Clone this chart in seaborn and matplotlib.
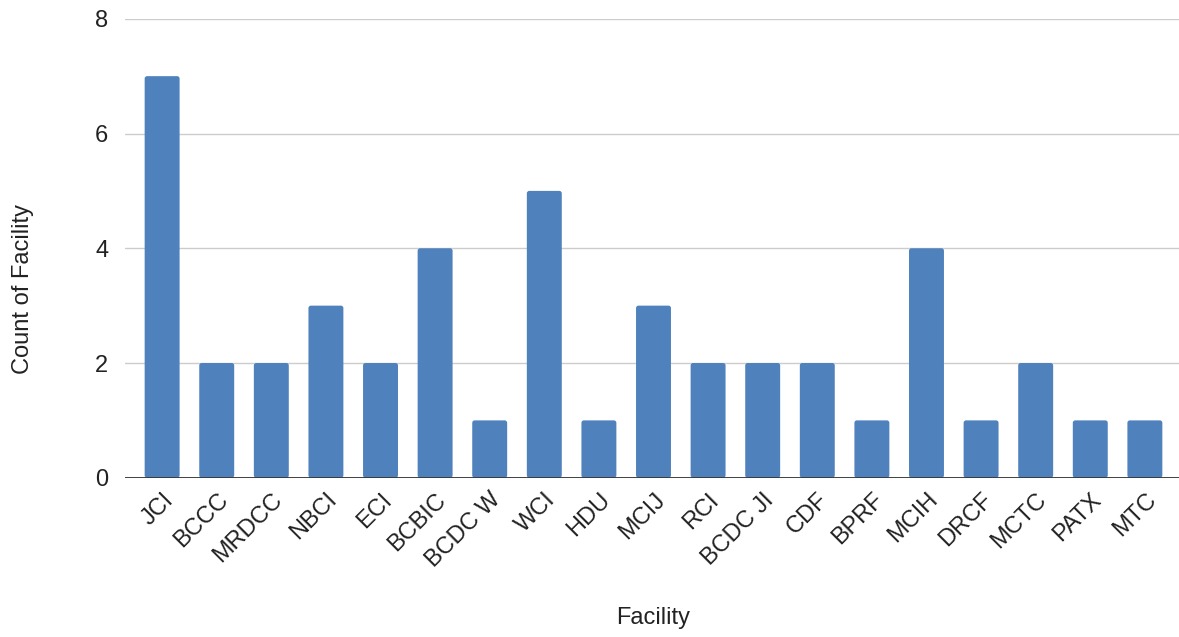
import matplotlib
matplotlib.use("Agg")
import matplotlib.pyplot as plt
from matplotlib.patches import FancyBboxPatch
import seaborn as sns
import pandas as pd

facilities = ["JCI", "BCCC", "MRDCC", "NBCI", "ECI", "BCBIC", "BCDC W", "WCI", "HDU",
              "MCIJ", "RCI", "BCDC JI", "CDF", "BPRF", "MCIH", "DRCF", "MCTC", "PATX", "MTC"]
counts = [7, 2, 2, 3, 2, 4, 1, 5, 1, 3, 2, 2, 2, 1, 4, 1, 2, 1, 1]
y_ticks = [0, 2, 4, 6, 8]

df = pd.DataFrame({"Facility": facilities, "Count of Facility": counts})

sns.set_theme(style="white")
plt.rcParams["font.family"] = ["Liberation Sans", "DejaVu Sans"]

fig = plt.figure(figsize=(11.79, 6.37), dpi=100)
ax = fig.add_axes([125 / 1179, 0.250, 1057 / 1179, 0.7205])

sns.barplot(data=df, x="Facility", y="Count of Facility", color="#4F81BD",
            saturation=1, width=0.64, ax=ax, zorder=2)

# swap plain rectangles for slightly rounded ones
for p in list(ax.patches):
    x, y = p.get_x(), p.get_y()
    w, h = p.get_width(), p.get_height()
    fb = FancyBboxPatch((x, y), w, h,
                        boxstyle="round,pad=0,rounding_size=0.045",
                        mutation_aspect=0.95, facecolor="#4F81BD",
                        edgecolor="none", zorder=2)
    p.remove()
    ax.add_patch(fb)

ax.set_ylim(0, 8)
ax.set_xlim(-0.68, len(facilities) - 0.32)
ax.set_yticks(y_ticks)
ax.set_yticklabels([str(v) for v in y_ticks], fontsize=17, color="#222222")
ax.yaxis.grid(True, color="#cccccc", linewidth=1, zorder=0)
ax.axhline(0, color="#333333", linewidth=1.3, zorder=3)

for s in ax.spines.values():
    s.set_visible(False)
ax.tick_params(axis="both", length=0)
ax.tick_params(axis="y", pad=12)
ax.tick_params(axis="x", pad=8)

ax.set_xticks(range(len(facilities)))
ax.set_xticklabels(facilities, rotation=45, ha="right", rotation_mode="anchor",
                   fontsize=17, color="#222222")

ax.set_xlabel("Facility", fontsize=17, color="#222222", labelpad=25)
ax.set_ylabel("Count of Facility", fontsize=17, color="#222222")
ax.yaxis.set_label_coords(-0.086, 0.412)

fig.savefig("out.png", dpi=100, facecolor="white")
